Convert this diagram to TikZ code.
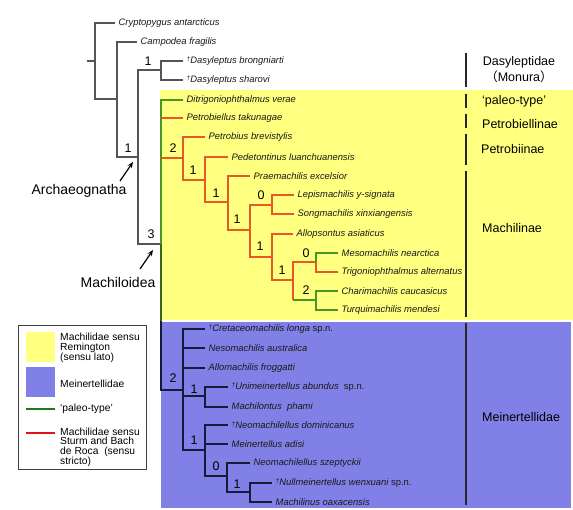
\documentclass[tikz,border=0pt]{standalone}
\usepackage{fontspec}
\setmainfont{Liberation Sans}
\newfontfamily\cjkfont{Noto Sans CJK SC}
\usetikzlibrary{arrows.meta}
\definecolor{yel}{RGB}{255,255,128}
\definecolor{blu}{RGB}{128,128,230}
\definecolor{rd}{RGB}{232,88,40}
\definecolor{gn}{RGB}{70,150,40}
\definecolor{olv}{RGB}{60,100,35}
\definecolor{nav}{RGB}{25,25,60}
\definecolor{gry}{RGB}{85,85,85}
\definecolor{legred}{RGB}{225,20,20}
\definecolor{leggreen}{RGB}{30,120,30}
\newcommand{\dg}{\raisebox{2.5pt}{\fontsize{6.5}{7}\selectfont †}}
\begin{document}
\begin{tikzpicture}[x=1pt,y=-1pt,
  sp/.style={anchor=west, inner xsep=3.5pt, inner ysep=1pt, font=\fontsize{9.4}{10}\selectfont\itshape, text=black!90},
  num/.style={inner sep=0pt, font=\fontsize{12.5}{13}\selectfont},
  fam/.style={inner sep=0pt, font=\fontsize{12.5}{14}\selectfont},
  big/.style={inner sep=0pt, font=\fontsize{14}{15}\selectfont},
  legtxt/.style={anchor=west, inner sep=0pt, align=left, font=\fontsize{10.3}{9.6}\selectfont},
  gl/.style={draw=gry, line width=1.2pt},
  rl/.style={draw=rd, line width=1.2pt},
  gnl/.style={draw=gn, line width=1.2pt},
  ol/.style={draw=olv, line width=1.2pt},
  bl/.style={draw=nav, line width=1.2pt},
  bar/.style={draw=black!85, line width=1.2pt},
  arr/.style={draw=black, line width=1.2pt, -{Stealth[length=6pt,width=5pt]}}
]
\useasboundingbox (0,0) rectangle (573,510);
% background regions
\fill[yel] (160,90) rectangle (573,320);
\fill[blu] (161,322) rectangle (571,508);

% leaves
\node[sp] (cryp) at (115,23) {Cryptopygus antarcticus};
\node[sp] (camp) at (137,42) {Campodea fragilis};
\node[sp] (dbro) at (183,61) {\dg Dasyleptus brongniarti};
\node[sp] (dsha) at (183,80) {\dg Dasyleptus sharovi};
\node[sp] (ditr) at (183,100) {Ditrigoniophthalmus verae};
\node[sp] (petl) at (183,118) {Petrobiellus takunagae};
\node[sp] (petb) at (205,137) {Petrobius brevistylis};
\node[sp] (pedt) at (228,157) {Pedetontinus luanchuanensis};
\node[sp] (prae) at (250,176) {Praemachilis excelsior};
\node[sp] (lepi) at (294,195) {Lepismachilis y-signata};
\node[sp] (song) at (294,214) {Songmachilis xinxiangensis};
\node[sp] (allo) at (293,234) {Allopsontus asiaticus};
\node[sp] (meso) at (338,253) {Mesomachilis nearctica};
\node[sp] (trig) at (338,272) {Trigoniophthalmus alternatus};
\node[sp] (char) at (338,291) {Charimachilis caucasicus};
\node[sp] (turq) at (338,310) {Turquimachilis mendesi};
\node[sp] (cret) at (205,329) {\dg Cretaceomachilis longa {\upshape sp.n.}};
\node[sp] (neso) at (205,348) {Nesomachilis australica};
\node[sp] (allm) at (205,368) {Allomachilis froggatti};
\node[sp] (unim) at (228,387) {\dg Unimeinertellus abundus\ \ {\upshape sp.n.}};
\node[sp] (mlon) at (228,407) {Machilontus\ \ phami};
\node[sp] (neod) at (228,425) {\dg Neomachilellus dominicanus};
\node[sp] (mein) at (228,444) {Meinertellus adisi};
\node[sp] (neos) at (250,463) {Neomachilellus szeptyckii};
\node[sp] (null) at (272,483) {\dg Nullmeinertellus wenxuani {\upshape sp.n.}};
\node[sp] (mlin) at (272,502) {Machilinus oaxacensis};

% internal nodes
\coordinate (rs) at (87,61);
\coordinate (r) at (95,61);
\coordinate (a1) at (117,99);
\coordinate (arch) at (138,157);
\coordinate (dasy) at (161,70);
\coordinate (mach) at (161,244);
\coordinate (ybot) at (161,321);
\coordinate (y2) at (183,158);
\coordinate (y1a) at (205,180);
\coordinate (y1b) at (228,202);
\coordinate (y1c) at (250,230);
\coordinate (y0a) at (272,205);
\coordinate (y1d) at (272,257);
\coordinate (y1e) at (293,280);
\coordinate (y0b) at (316,262);
\coordinate (y2b) at (316,300);
\coordinate (m2) at (183,390);
\coordinate (b1a) at (205,396);
\coordinate (b1b) at (205,450);
\coordinate (b0) at (227,476);
\coordinate (b1c) at (250,492);

% grey part
\draw[gl] (rs) -- (r);
\draw[gl] (r) |- (cryp.west);
\draw[gl] (r) |- (a1);
\draw[gl] (a1) |- (camp.west);
\draw[gl] (a1) |- (arch);
\draw[gl] (arch) |- (dasy);
\draw[gl] (arch) |- (mach);
\draw[gl] (dasy) |- (dbro.west);
\draw[gl] (dasy) |- (dsha.west);

% yellow part
\draw[ol] (mach) -- (ybot);
\draw[gnl] (mach) |- (ditr.west);
\draw[rl] (mach |- petl.west) -- (petl.west);
\draw[rl] (mach |- y2) -- (y2);
\draw[rl] (y2) |- (petb.west);
\draw[rl] (y2) |- (y1a);
\draw[rl] (y1a) |- (pedt.west);
\draw[rl] (y1a) |- (y1b);
\draw[rl] (y1b) |- (prae.west);
\draw[rl] (y1b) |- (y1c);
\draw[rl] (y1c) |- (y0a);
\draw[rl] (y1c) |- (y1d);
\draw[rl] (y0a) |- (lepi.west);
\draw[rl] (y0a) |- (song.west);
\draw[rl] (y1d) |- (allo.west);
\draw[rl] (y1d) |- (y1e);
\draw[rl] (y1e) |- (y0b);
\draw[rl] (y1e) -- (y1e |- y2b);
\draw[gnl] (y1e |- y2b) -- (y2b);
\draw[rl] (y0b) |- (trig.west);
\draw[gnl] (y0b) |- (meso.west);
\draw[gnl] (y2b) |- (char.west);
\draw[gnl] (y2b) |- (turq.west);

% blue part
\draw[bl] (ybot) |- (m2);
\draw[bl] (m2) |- (cret.west);
\draw[bl] (m2) |- (neso.west);
\draw[bl] (m2) |- (allm.west);
\draw[bl] (m2) |- (b1a);
\draw[bl] (m2) |- (b1b);
\draw[bl] (b1a) |- (unim.west);
\draw[bl] (b1a) |- (mlon.west);
\draw[bl] (b1b) |- (neod.west);
\draw[bl] (b1b) |- (mein.west);
\draw[bl] (b1b) |- (b0);
\draw[bl] (b0) |- (neos.west);
\draw[bl] (b0) |- (b1c);
\draw[bl] (b1c) |- (null.west);
\draw[bl] (b1c) |- (mlin.west);

% support numbers
\node[num] (s1) at (148,61) {1};
\node[num] (s2) at (128,148) {1};
\node[num] (s3) at (151,234) {3};
\node[num] (s4) at (173,148) {2};
\node[num] (s5) at (193,170) {1};
\node[num] (s6) at (216,193) {1};
\node[num] (s7) at (237,219) {1};
\node[num] (s8) at (261,195) {0};
\node[num] (s9) at (260,246) {1};
\node[num] (s10) at (282,270) {1};
\node[num] (s11) at (306,253) {0};
\node[num] (s12) at (306,290) {2};
\node[num] (s13) at (173,378) {2};
\node[num] (s14) at (194,389) {1};
\node[num] (s15) at (194,440) {1};
\node[num] (s16) at (216,466) {0};
\node[num] (s17) at (237,484) {1};

% clade labels with arrows
\node[big] (archlab) at (79,191) {Archaeognatha};
\coordinate (archtail) at (120,181);
\coordinate (archtip) at (133,162);
\draw[arr] (archtail) -- (archtip);
\node[big] (machlab) at (118,282) {Machiloidea};
\coordinate (machtail) at (140,269);
\coordinate (machtip) at (153,250);
\draw[arr] (machtail) -- (machtip);

% right column
\coordinate (d1) at (466,53); \coordinate (d2) at (466,87);
\coordinate (p1) at (466,94); \coordinate (p2) at (466,108);
\coordinate (q1) at (466,114); \coordinate (q2) at (466,128);
\coordinate (r1) at (466,134); \coordinate (r2) at (466,165);
\coordinate (m1) at (466,171); \coordinate (mm2) at (466,317);
\coordinate (e1) at (466,323); \coordinate (e2) at (466,505);
\draw[bar] (d1) -- (d2);
\draw[bar] (p1) -- (p2);
\draw[bar] (q1) -- (q2);
\draw[bar] (r1) -- (r2);
\draw[bar] (m1) -- (mm2);
\draw[bar] (e1) -- (e2);
\node[fam] (fdasy) at (519,62) {Dasyleptidae};
\node[fam] (fmon) at (519,77) {{\cjkfont （}Monura{\cjkfont ）}};
\node[fam, anchor=west] (fpal) at (482,101) {‘paleo-type’};
\node[fam, anchor=west] (fpbl) at (482,124) {Petrobiellinae};
\node[fam, anchor=west] (fpbi) at (481,149) {Petrobiinae};
\node[fam, anchor=west] (fmac) at (482,228) {Machilinae};
\node[fam, anchor=west] (fmei) at (482,417) {Meinertellidae};

% legend
\node[draw=black!75, line width=0.9pt, fill=white, minimum width=128pt, minimum height=144pt, inner sep=0pt] (legend) at (82,397) {};
\node[fill=yel, minimum width=29pt, minimum height=30pt, inner sep=0pt] (swy) at (40.5,347) {};
\node[fill=blu, minimum width=29pt, minimum height=30pt, inner sep=0pt] (swb) at (40.5,382) {};
\coordinate (lg1) at (26,409); \coordinate (lg2) at (55,409);
\coordinate (lr1) at (26,433); \coordinate (lr2) at (55,433);
\draw[draw=leggreen, line width=1.5pt] (lg1) -- (lg2);
\draw[draw=legred, line width=1.5pt] (lr1) -- (lr2);
\node[legtxt] (ly) at (60,348) {Machilidae sensu\\Remington\\(sensu lato)};
\node[legtxt] (lb) at (60,384) {Meinertellidae};
\node[legtxt] (lgt) at (60,409) {‘paleo-type’};
\node[legtxt] (lrt) at (60,447) {Machilidae sensu\\Sturm and Bach\\de Roca\ \ (sensu\\stricto)};
\end{tikzpicture}
\end{document}
